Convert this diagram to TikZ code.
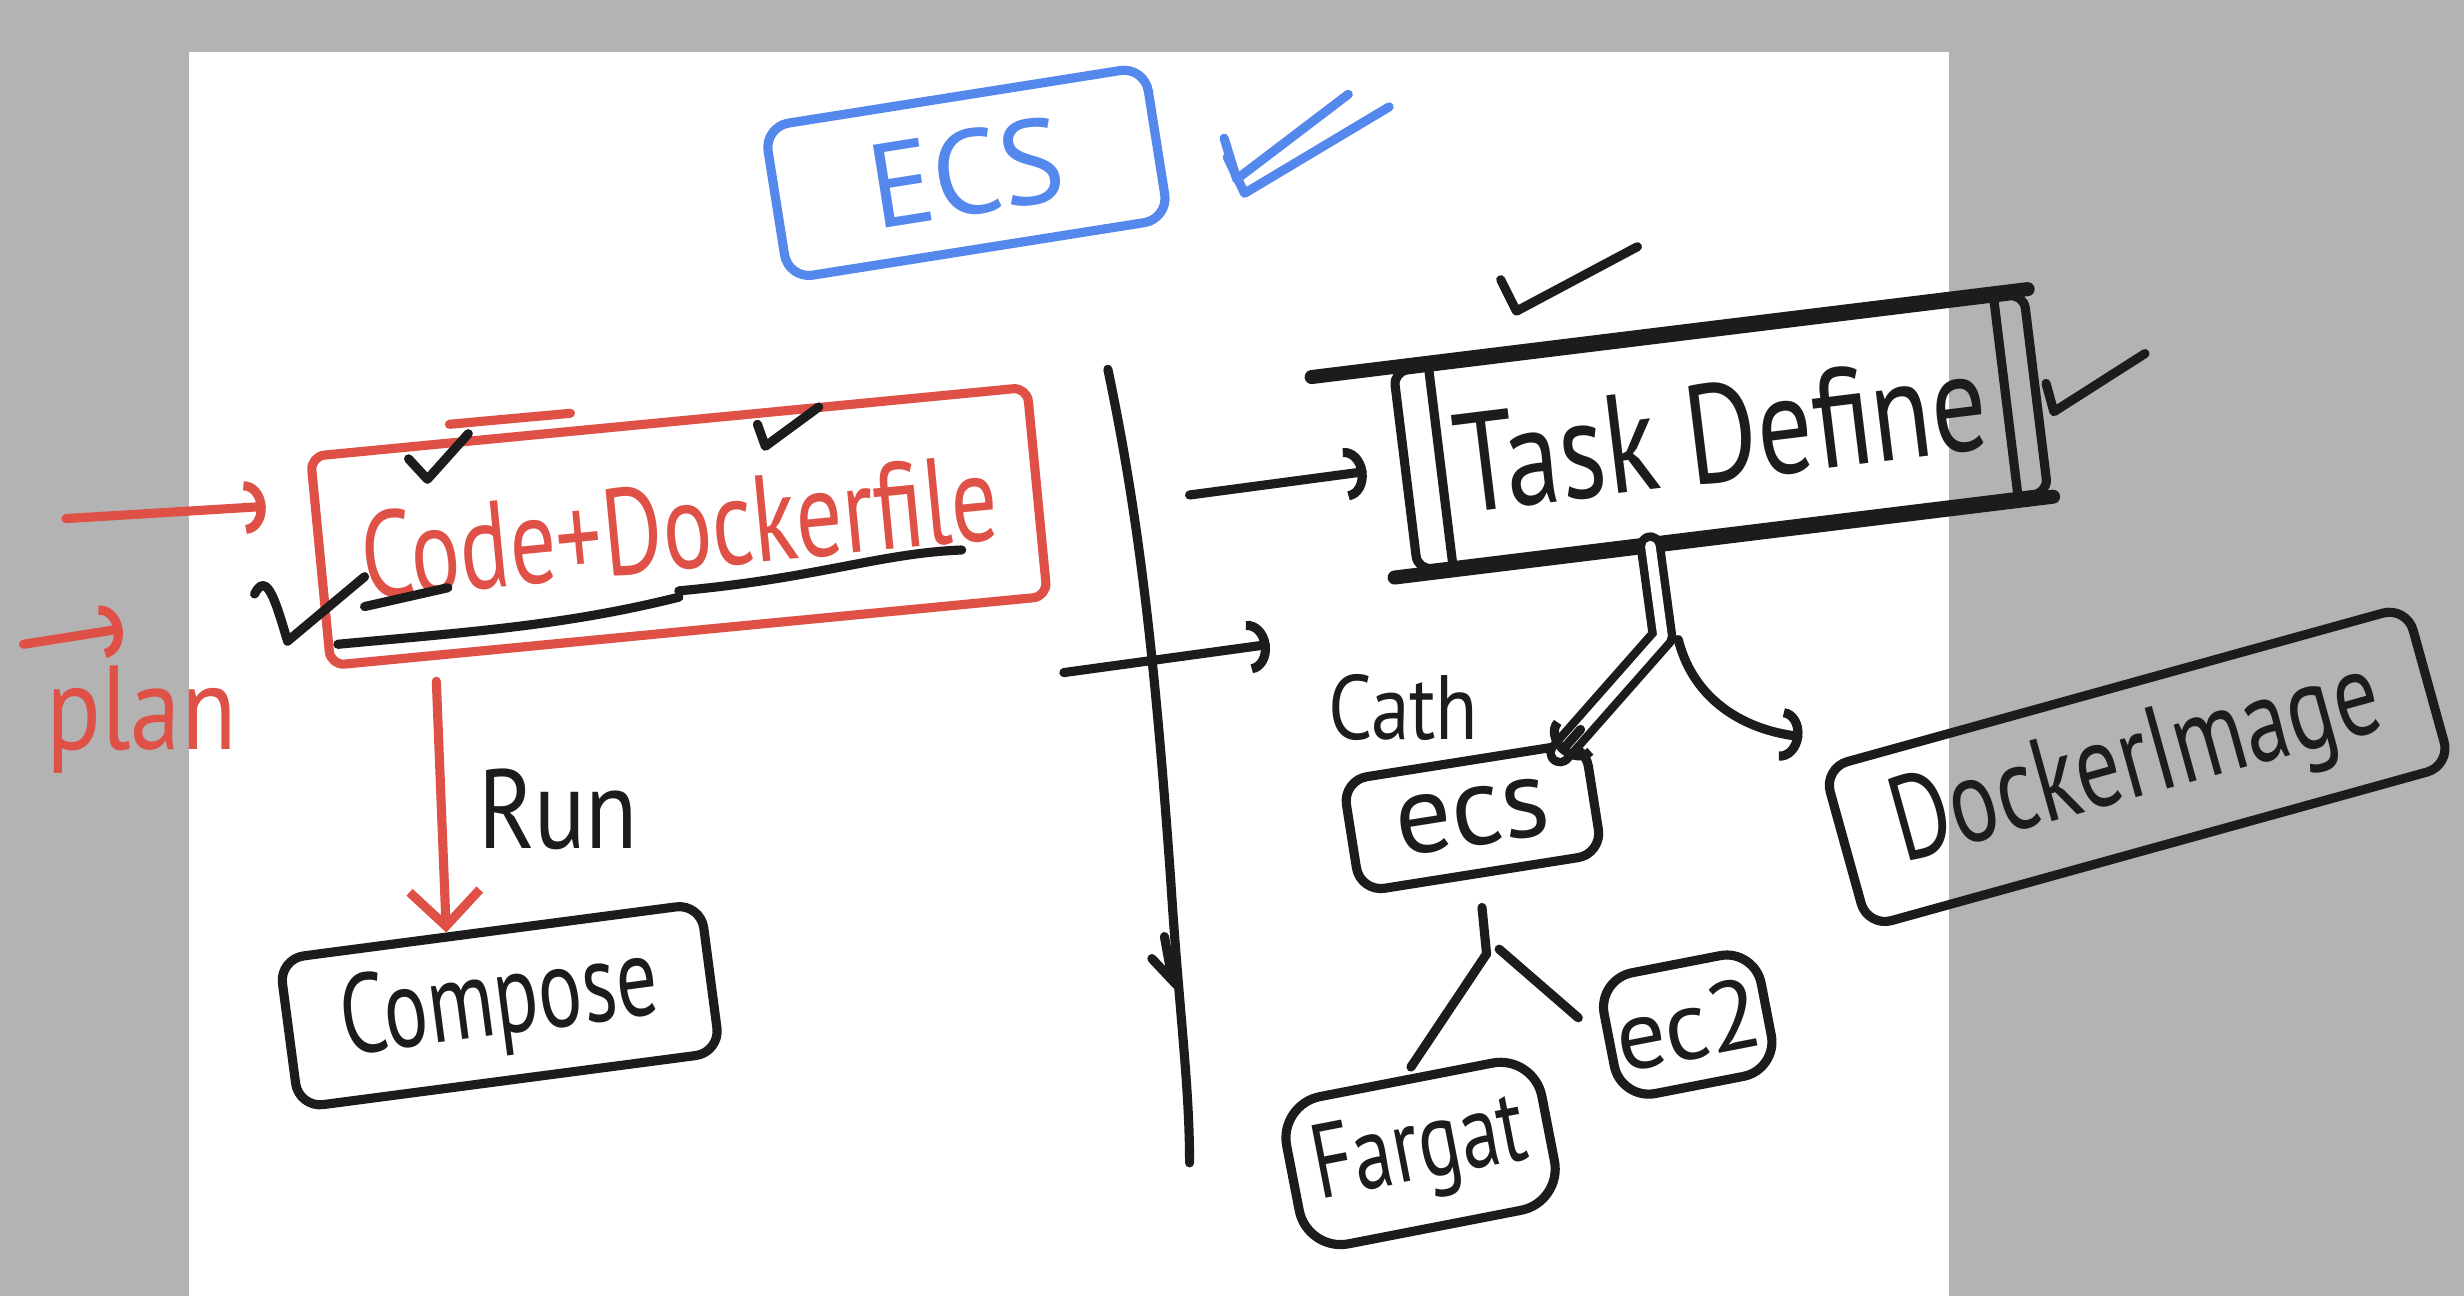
\documentclass[tikz,border=0pt]{standalone}
\usepackage{fontspec}
\setsansfont{PT Sans}
\usetikzlibrary{arrows.meta,calc}
\definecolor{inkblack}{HTML}{1C1C1C}
\definecolor{inkred}{HTML}{DF5146}
\definecolor{inkblue}{HTML}{5588EC}
\definecolor{paper}{HTML}{B3B3B3}
\newcommand{\handfont}[1]{\sffamily\fontsize{#1}{#1}\selectfont}
\newcommand{\narrowtext}[2]{\scalebox{#1}[1]{#2}}
\tikzset{
  ink/.style={line width=2.6pt,line cap=round,line join=round},
  box/.style={ink,draw,rounded corners=7pt,inner sep=0pt},
  word/.style={inner sep=1pt},
  hook/.style={-{Arc Barb[length=6pt,width=15pt]}},
  vee/.style={-{Straight Barb[length=10pt,width=20pt]}},
}
\begin{document}
\begin{tikzpicture}[x=0.015714cm,y=-0.015714cm,inkblack]
\useasboundingbox (0,0) rectangle (1568,825);
\fill[paper] (0,0) rectangle (1568,825);
\fill[white] (120,33) rectangle (1240,825);

% boxes
\node[box,inkblue,minimum width=3.85cm,minimum height=1.54cm,rotate=9,font=\handfont{34}] (ecstitle) at (615,110) {ECS};
\node[box,inkred,rounded corners=4pt,minimum width=7.2cm,minimum height=2.1cm,rotate=5.5,font=\handfont{35}] (code) at (432,335) {\narrowtext{0.75}{Code+Dockerfile}};
\node[box,minimum width=4.25cm,minimum height=1.5cm,rotate=7.5,font=\handfont{32}] (compose) at (318,640) {\narrowtext{0.73}{Compose}};
\node[box,rounded corners=4pt,minimum width=6.35cm,minimum height=2.0cm,rotate=7,font=\handfont{40}] (task) at (1095,275) {\narrowtext{0.78}{Task Define}};
\node[box,minimum width=2.45cm,minimum height=1.13cm,rotate=9,font=\handfont{32}] (ecs) at (937,520) {ecs};
\node[box,rounded corners=12pt,minimum width=2.6cm,minimum height=1.5cm,rotate=11,font=\handfont{30}] (fargat) at (904,734) {\narrowtext{0.75}{Fargat}};
\node[box,rounded corners=10pt,minimum width=1.6cm,minimum height=1.23cm,rotate=11,font=\handfont{28}] (ec2) at (1074,652) {ec2};
\node[box,minimum width=6.05cm,minimum height=1.65cm,rotate=15.5,font=\handfont{34}] (docker) at (1360,488) {\narrowtext{0.75}{DockerImage}};

% labels
\node[word,inkred,font=\handfont{34}] (plan) at (90,458) {\narrowtext{0.85}{plan}};
\node[word,font=\handfont{32}] (run) at (355,515) {\narrowtext{0.85}{Run}};
\node[word,font=\handfont{26}] (cath) at (893,450) {\narrowtext{0.85}{Cath}};

% double border of task box
\draw[ink] ($(task.north west)!0.062!(task.north east)$) -- ($(task.south west)!0.062!(task.south east)$);
\draw[ink] ($(task.north west)!0.946!(task.north east)$) -- ($(task.south west)!0.946!(task.south east)$);
\draw[ink,line width=4pt] ($(task.north west)!-0.12!(task.north east)$) -- (task.north east);
\draw[ink,line width=4pt] ($(task.south west)!-0.03!(task.south east)$) -- (task.south east);
\draw[ink,inkred] (286,270) -- (363,263);

% arrows
\coordinate (in1) at (42,330);
\coordinate (in2) at (15,410);
\coordinate (in2tip) at (78,400);
\draw[ink,inkred,hook] (in1) -- ($(code.west)+(-32,-35)$);
\draw[ink,inkred,hook] (in2) -- (in2tip);
\draw[ink,inkred,vee] ($(code.south west)!0.16!(code.south east)+(-4,14)$) -- ($(compose.north west)!0.4!(compose.north east)$);

\draw[ink] (705,235) .. controls (725,330) and (735,420) .. (745,560) .. controls (750,640) and (757,690) .. (757,740);
\draw[ink] (733,610) -- (749,627);
\draw[ink] (741,596) -- (745,618);

\coordinate (divarrow) at (757,315);
\coordinate (cross) at (677,428);
\coordinate (crosstip) at (808,410);
\draw[ink,hook] (divarrow) -- ($(task.west)+(-22,0)$);
\draw[ink,hook] (cross) -- (crosstip);

\coordinate (fork) at (1058,405);
\coordinate (ecsin) at ($(ecs.north east)+(-18,10)$);
\draw[ink,line width=2.4pt,double=white,double distance=3pt] ($(task.south west)!0.37!(task.south east)$) -- (fork) -- (ecsin);
\draw[ink,hook] ($(fork)!0.8!(ecsin)$) -- (ecsin);
\draw[ink,hook] ($(fork)+(10,2)$) .. controls +(10,40) and +(-35,-4) .. ($(docker.north west)+(-10,-18)$);

\coordinate (split) at (946,607);
\draw[ink] ([yshift=-0.3cm]ecs.south) -- (split);
\draw[ink,shorten >=0.1cm] (split) -- (fargat.north);
\draw[ink,shorten >=0.35cm] ($(split)+(8,-3)$) -- (ec2.west);

% ticks
\draw[ink,inkblue] (779,88) -- (787,114) -- (858,60);
\draw[ink,inkblue] (781,100) -- (792,123) -- (884,68);
\draw[ink] (955,178) -- (965,198) -- (1042,157);
\draw[ink] (1302,244) -- (1307,262) -- (1365,225);
\draw[ink] (260,292) -- (272,305) -- (298,276);
\draw[ink] (482,270) -- (487,284) -- (521,259);
\draw[ink] (162,378) .. controls (170,362) and (176,385) .. (183,408) -- (232,367);

% underlines
\draw[ink] (215,410) .. controls (300,402) and (360,398) .. (432,380);
\draw[ink] (432,376) .. controls (520,368) and (560,352) .. (612,350);
\draw[ink] (232,386) -- (285,374);
\end{tikzpicture}
\end{document}
